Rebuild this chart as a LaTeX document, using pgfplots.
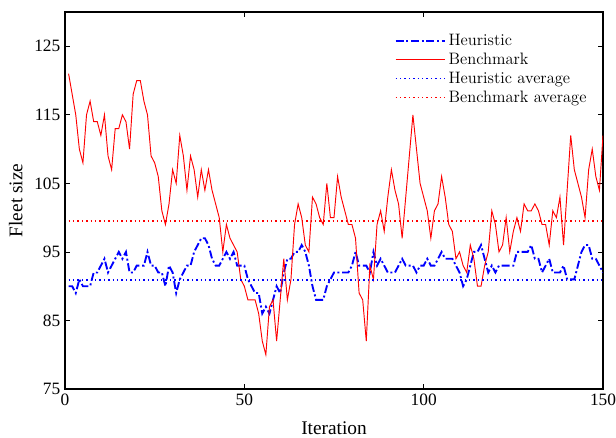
\documentclass[border=0pt]{standalone}
\usepackage{pgfplots}
\usepackage{pgfplotstable}
\pgfplotsset{compat=1.18}
\usepackage{fontspec}
\newfontfamily\tnr{Liberation Serif}

% iteration, heuristic, benchmark
\pgfplotstableread{
it heu ben
1 90 121
2 90 118
3 89 115
4 91 110
5 90 108
6 90 115
7 90 117
8 92 114
9 92 114
10 93 112
11 94 115
12 92 109
13 93 107
14 94 113
15 95 113
16 94 115
17 95 114
18 92 110
19 92 118
20 93 120
21 93 120
22 93 117
23 95 115
24 93 109
25 93 108
26 92 106
27 92 101
28 90 99
29 93 102
30 92 107
31 89 105
32 91 112
33 92 109
34 93 104
35 93 109
36 95 107
37 96 103
38 97 107
39 97 104
40 96 107
41 94 104
42 93 102
43 93 100
44 94 95
45 95 99
46 94 97
47 95 96
48 93 95
49 93 91
50 93 90
51 91 88
52 90 88
53 89 88
54 89 86
55 86 82
56 87 80
57 86 87
58 88 88
59 90 82
60 89 88
61 92 94
62 94 88
63 94 91
64 95 99
65 95 102
66 96 100
67 95 96
68 93 95
69 90 103
70 88 102
71 88 100
72 88 99
73 90 105
74 91 100
75 92 100
76 92 106
77 92 103
78 92 101
79 92 99
80 93 99
81 95 97
82 93 89
83 93 88
84 93 82
85 92 93
86 95 91
87 93 99
88 94 101
89 93 98
90 92 103
91 92 107
92 92 104
93 93 102
94 94 97
95 93 103
96 93 109
97 93 115
98 92 110
99 93 105
100 93 103
101 94 101
102 93 97
103 93 101
104 94 102
105 95 106
106 94 103
107 94 99
108 94 98
109 93 94
110 92 95
111 90 93
112 91 92
113 93 96
114 95 94
115 95 90
116 96 90
117 94 93
118 92 95
119 93 101
120 92 99
121 93 95
122 93 96
123 93 100
124 93 95
125 93 98
126 95 100
127 95 98
128 95 102
129 95 101
130 96 101
131 94 102
132 94 101
133 92 99
134 93 99
135 94 96
136 92 101
137 92 100
138 92 103
139 93 96
140 91 104
141 91 112
142 91 107
143 93 105
144 95 103
145 96 100
146 96 107
147 94 110
148 94 106
149 93 104
150 92 112
}\fleet

\begin{document}
\begin{tikzpicture}
\useasboundingbox (-48.75pt,-36pt) rectangle (413.25pt,291.75pt);
\begin{axis}[
  at={(0,0)}, anchor=south west,
  scale only axis,
  width=403.5pt, height=282.75pt,
  xmin=0, xmax=150, ymin=75, ymax=130,
  xtick={0,50,100,150},
  ytick={75,85,...,125},
  tick align=inside,
  major tick length=4pt,
  axis line style={line width=0.8pt},
  tick style={line width=0.6pt, black},
  /pgf/number format/assume math mode=true,
  tick label style={font=\tnr\fontsize{13}{15}\selectfont},
  label style={font=\tnr\fontsize{14.5}{16}\selectfont},
  xlabel={Iteration}, ylabel={Fleet size},
  xlabel style={yshift=-5pt},
  ylabel style={yshift=2pt},
  legend cell align=left,
  legend style={draw=none, at={(0.605,0.955)}, anchor=north west,
    font=\fontsize{12.4}{15}\selectfont, row sep=0pt},
  legend image code/.code={\draw[mark repeat=2,mark phase=2,#1] plot coordinates {(0cm,0cm) (0.65cm,0cm) (1.3cm,0cm)};},
  avg/.style={line width=1pt, dash pattern=on 1pt off 2.3pt},
]
\addplot[color=blue, line width=1.4pt, dash pattern=on 6pt off 2pt on 1.5pt off 2pt] table[x=it, y=heu] {\fleet};
\addlegendentry{Heuristic}
\addplot[color=red, line width=0.7pt] table[x=it, y=ben] {\fleet};
\addlegendentry{Benchmark}
\addplot[color=blue, avg] coordinates {(1,90.9) (150,90.9)};
\addlegendentry{Heuristic average}
\addplot[color=red, avg] coordinates {(1,99.5) (150,99.5)};
\addlegendentry{Benchmark average}
\end{axis}
\end{tikzpicture}
\end{document}
